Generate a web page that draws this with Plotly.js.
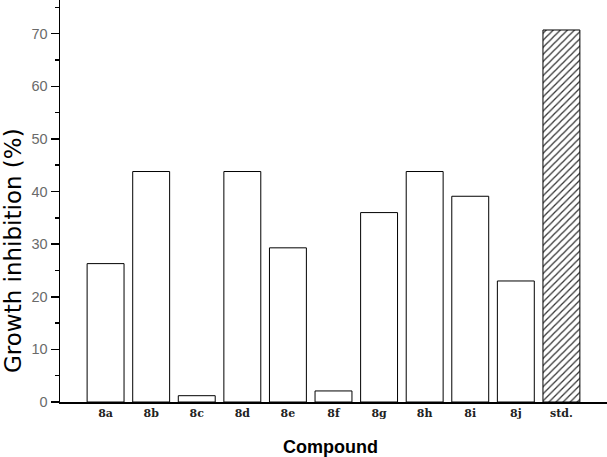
<!DOCTYPE html>
<html>
<head>
<meta charset="utf-8">
<script src="https://cdn.plot.ly/plotly-3.0.1.min.js"></script>
<style>html,body{margin:0;padding:0;background:#fff;}#chart{width:607px;height:457px;}</style>
</head>
<body>
<div id="chart"></div>
<script>
const compounds = ["8a","8b","8c","8d","8e","8f","8g","8h","8i","8j"];
const inhibition = [26.3, 43.8, 1.2, 43.8, 29.3, 2.1, 36.0, 43.8, 39.1, 23.0];
const stdLabel = ["std."];
const stdValue = [70.7];
const yTicks = [0, 10, 20, 30, 40, 50, 60, 70];

const traces = [
  {
    type: "bar", x: compounds, y: inhibition,
    marker: {color: "#ffffff", line: {color: "#000000", width: 1}},
    hoverinfo: "x+y"
  },
  {
    type: "bar", x: stdLabel, y: stdValue,
    marker: {color: "#ffffff", line: {color: "#000000", width: 1},
      pattern: {shape: "/", fgcolor: "#333333", bgcolor: "#ffffff", size: 5, solidity: 0.25}},
    hoverinfo: "x+y"
  }
];

const layout = {
  width: 607, height: 457,
  margin: {l: 60, r: 0, t: 0, b: 55},
  paper_bgcolor: "#ffffff", plot_bgcolor: "#ffffff",
  showlegend: false,
  bargap: 0.19,
  barmode: "overlay",
  xaxis: {
    type: "category",
    categoryarray: compounds.concat(stdLabel), categoryorder: "array",
    range: [-1, 11],
    showline: true, linecolor: "#000000", linewidth: 1.5,
    ticks: "", showgrid: false, zeroline: false,
    tickfont: {family: "DejaVu Serif", size: 11, color: "#222222", weight: "bold"},
    automargin: false
  },
  yaxis: {
    range: [0, 76.4],
    tickvals: yTicks, ticktext: yTicks.map(String),
    showline: true, linecolor: "#000000", linewidth: 1.5,
    ticks: "outside", ticklen: 8, tickwidth: 1.5, tickcolor: "#000000",
    minor: {dtick: 5, tick0: 0, ticks: "outside", ticklen: 4, tickwidth: 1.5, tickcolor: "#000000", showgrid: false},
    showgrid: false, zeroline: false,
    tickfont: {family: "Liberation Sans", size: 14.5, color: "#6a6a6a"},
    automargin: false
  },
  annotations: [
    {
      text: "Growth inhibition (%)", textangle: -90, showarrow: false,
      xref: "paper", yref: "paper",
      x: (13 - 60) / 547, y: (402 - 251) / 402, xanchor: "center", yanchor: "middle",
      font: {family: "DejaVu Sans", size: 23, color: "#000000"}
    },
    {
      text: "Compound", showarrow: false,
      xref: "paper", yref: "paper",
      x: (330 - 60) / 547, y: (402 - 447) / 402, xanchor: "center", yanchor: "middle",
      font: {family: "Liberation Sans", size: 18, color: "#000000", weight: "bold"}
    }
  ]
};

Plotly.newPlot("chart", traces, layout, {displayModeBar: false, staticPlot: true});
</script>
</body>
</html>
